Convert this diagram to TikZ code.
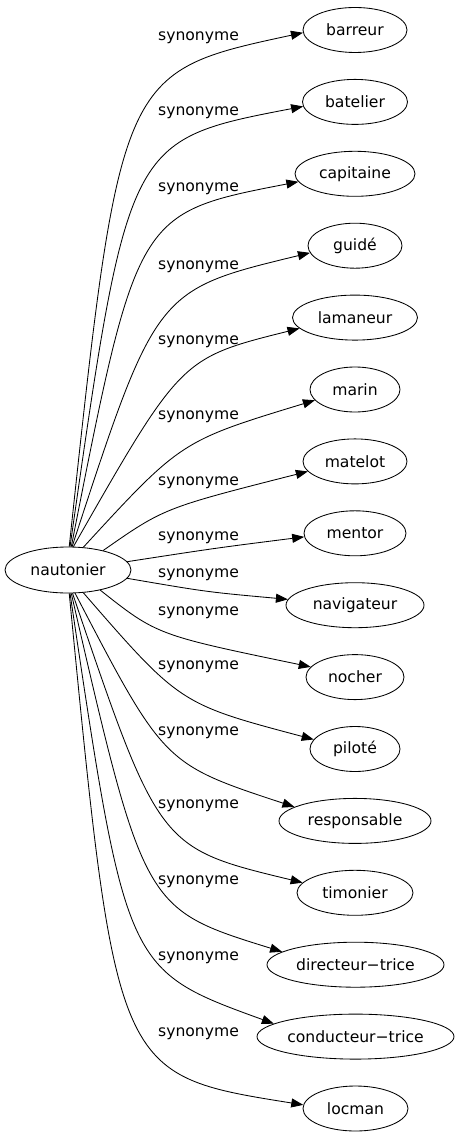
\documentclass[tikz,border=0pt]{standalone}
\usepackage{fontspec}
\setmainfont{DejaVu Sans}
\usetikzlibrary{shapes.geometric,arrows.meta,calc}
\newcommand{\conn}[4]{\draw[arr] (n.#1) .. controls (#4) and (#4) .. (#2.#3);}
\begin{document}
\begin{tikzpicture}[x=1pt,y=-1pt,
  every node/.style={font=\fontsize{15.6}{18}\selectfont},
  word/.style={draw, ellipse, line width=0.85pt, minimum height=45pt, inner sep=0pt},
  lab/.style={inner sep=0pt},
  arr/.style={draw, line width=0.85pt, -{Triangle[length=12pt,width=9pt]}}]
\useasboundingbox (0,0) rectangle (460,1139);
\node[word, minimum width=126pt, minimum height=46pt] (n) at (68,570) {nautonier};
\node[word, minimum width=104pt] (t1) at (355,30) {barreur};
\node[word, minimum width=105pt] (t2) at (355,101.9) {batelier};
\node[word, minimum width=120pt] (t3) at (355,173.8) {capitaine};
\node[word, minimum width=94pt] (t4) at (355,245.7) {guidé};
\node[word, minimum width=125pt] (t5) at (355,317.6) {lamaneur};
\node[word, minimum width=90pt] (t6) at (355,389.5) {marin};
\node[word, minimum width=104pt] (t7) at (355,461.4) {matelot};
\node[word, minimum width=102pt] (t8) at (355,533.3) {mentor};
\node[word, minimum width=138pt] (t9) at (355,605.2) {navigateur};
\node[word, minimum width=98pt] (t10) at (355,677.1) {nocher};
\node[word, minimum width=90pt] (t11) at (355,749) {piloté};
\node[word, minimum width=152pt] (t12) at (355,820.9) {responsable};
\node[word, minimum width=116pt] (t13) at (355,892.8) {timonier};
\node[word, minimum width=177pt] (t14) at (355.5,964.7) {directeur−trice};
\node[word, minimum width=197pt] (t15) at (355.5,1036.6) {conducteur−trice};
\node[word, minimum width=105pt] (t16) at (355.5,1108.5) {locman};
\node[lab] (l1) at (198.5,38) {synonyme};
\node[lab] (l2) at (198.5,113) {synonyme};
\node[lab] (l3) at (198.5,189) {synonyme};
\node[lab] (l4) at (198.5,267) {synonyme};
\node[lab] (l5) at (198.5,342) {synonyme};
\node[lab] (l6) at (198.5,417) {synonyme};
\node[lab] (l7) at (198.5,483) {synonyme};
\node[lab] (l8) at (198.5,538) {synonyme};
\node[lab] (l9) at (198.5,575) {synonyme};
\node[lab] (l10) at (198.5,613) {synonyme};
\node[lab] (l11) at (198.5,667) {synonyme};
\node[lab] (l12) at (198.5,733) {synonyme};
\node[lab] (l13) at (198.5,806) {synonyme};
\node[lab] (l14) at (198.5,882) {synonyme};
\node[lab] (l15) at (198.5,958) {synonyme};
\node[lab] (l16) at (198.5,1034) {synonyme};
\conn{87}{t1}{183.3}{120,72}
\conn{85}{t2}{185.5}{128,140}
\conn{82}{t3}{188.5}{137,213}
\conn{80}{t4}{189.7}{156,290}
\conn{77}{t5}{191}{181,358}
\conn{56}{t6}{195}{181,441}
\conn{29}{t7}{192.4}{164,508}
\conn{8}{t8}{184.6}{216,548}
\conn{-8}{t9}{175}{207,592}
\conn{-32}{t10}{167}{157,635}
\conn{-56}{t11}{167.5}{180,704}
\conn{-73}{t12}{167.8}{164,764}
\conn{-79}{t13}{169}{159,848}
\conn{-82}{t14}{170.5}{144,909}
\conn{-85}{t15}{171.8}{126,970}
\conn{-87}{t16}{176.7}{116,1075}
\end{tikzpicture}
\end{document}
